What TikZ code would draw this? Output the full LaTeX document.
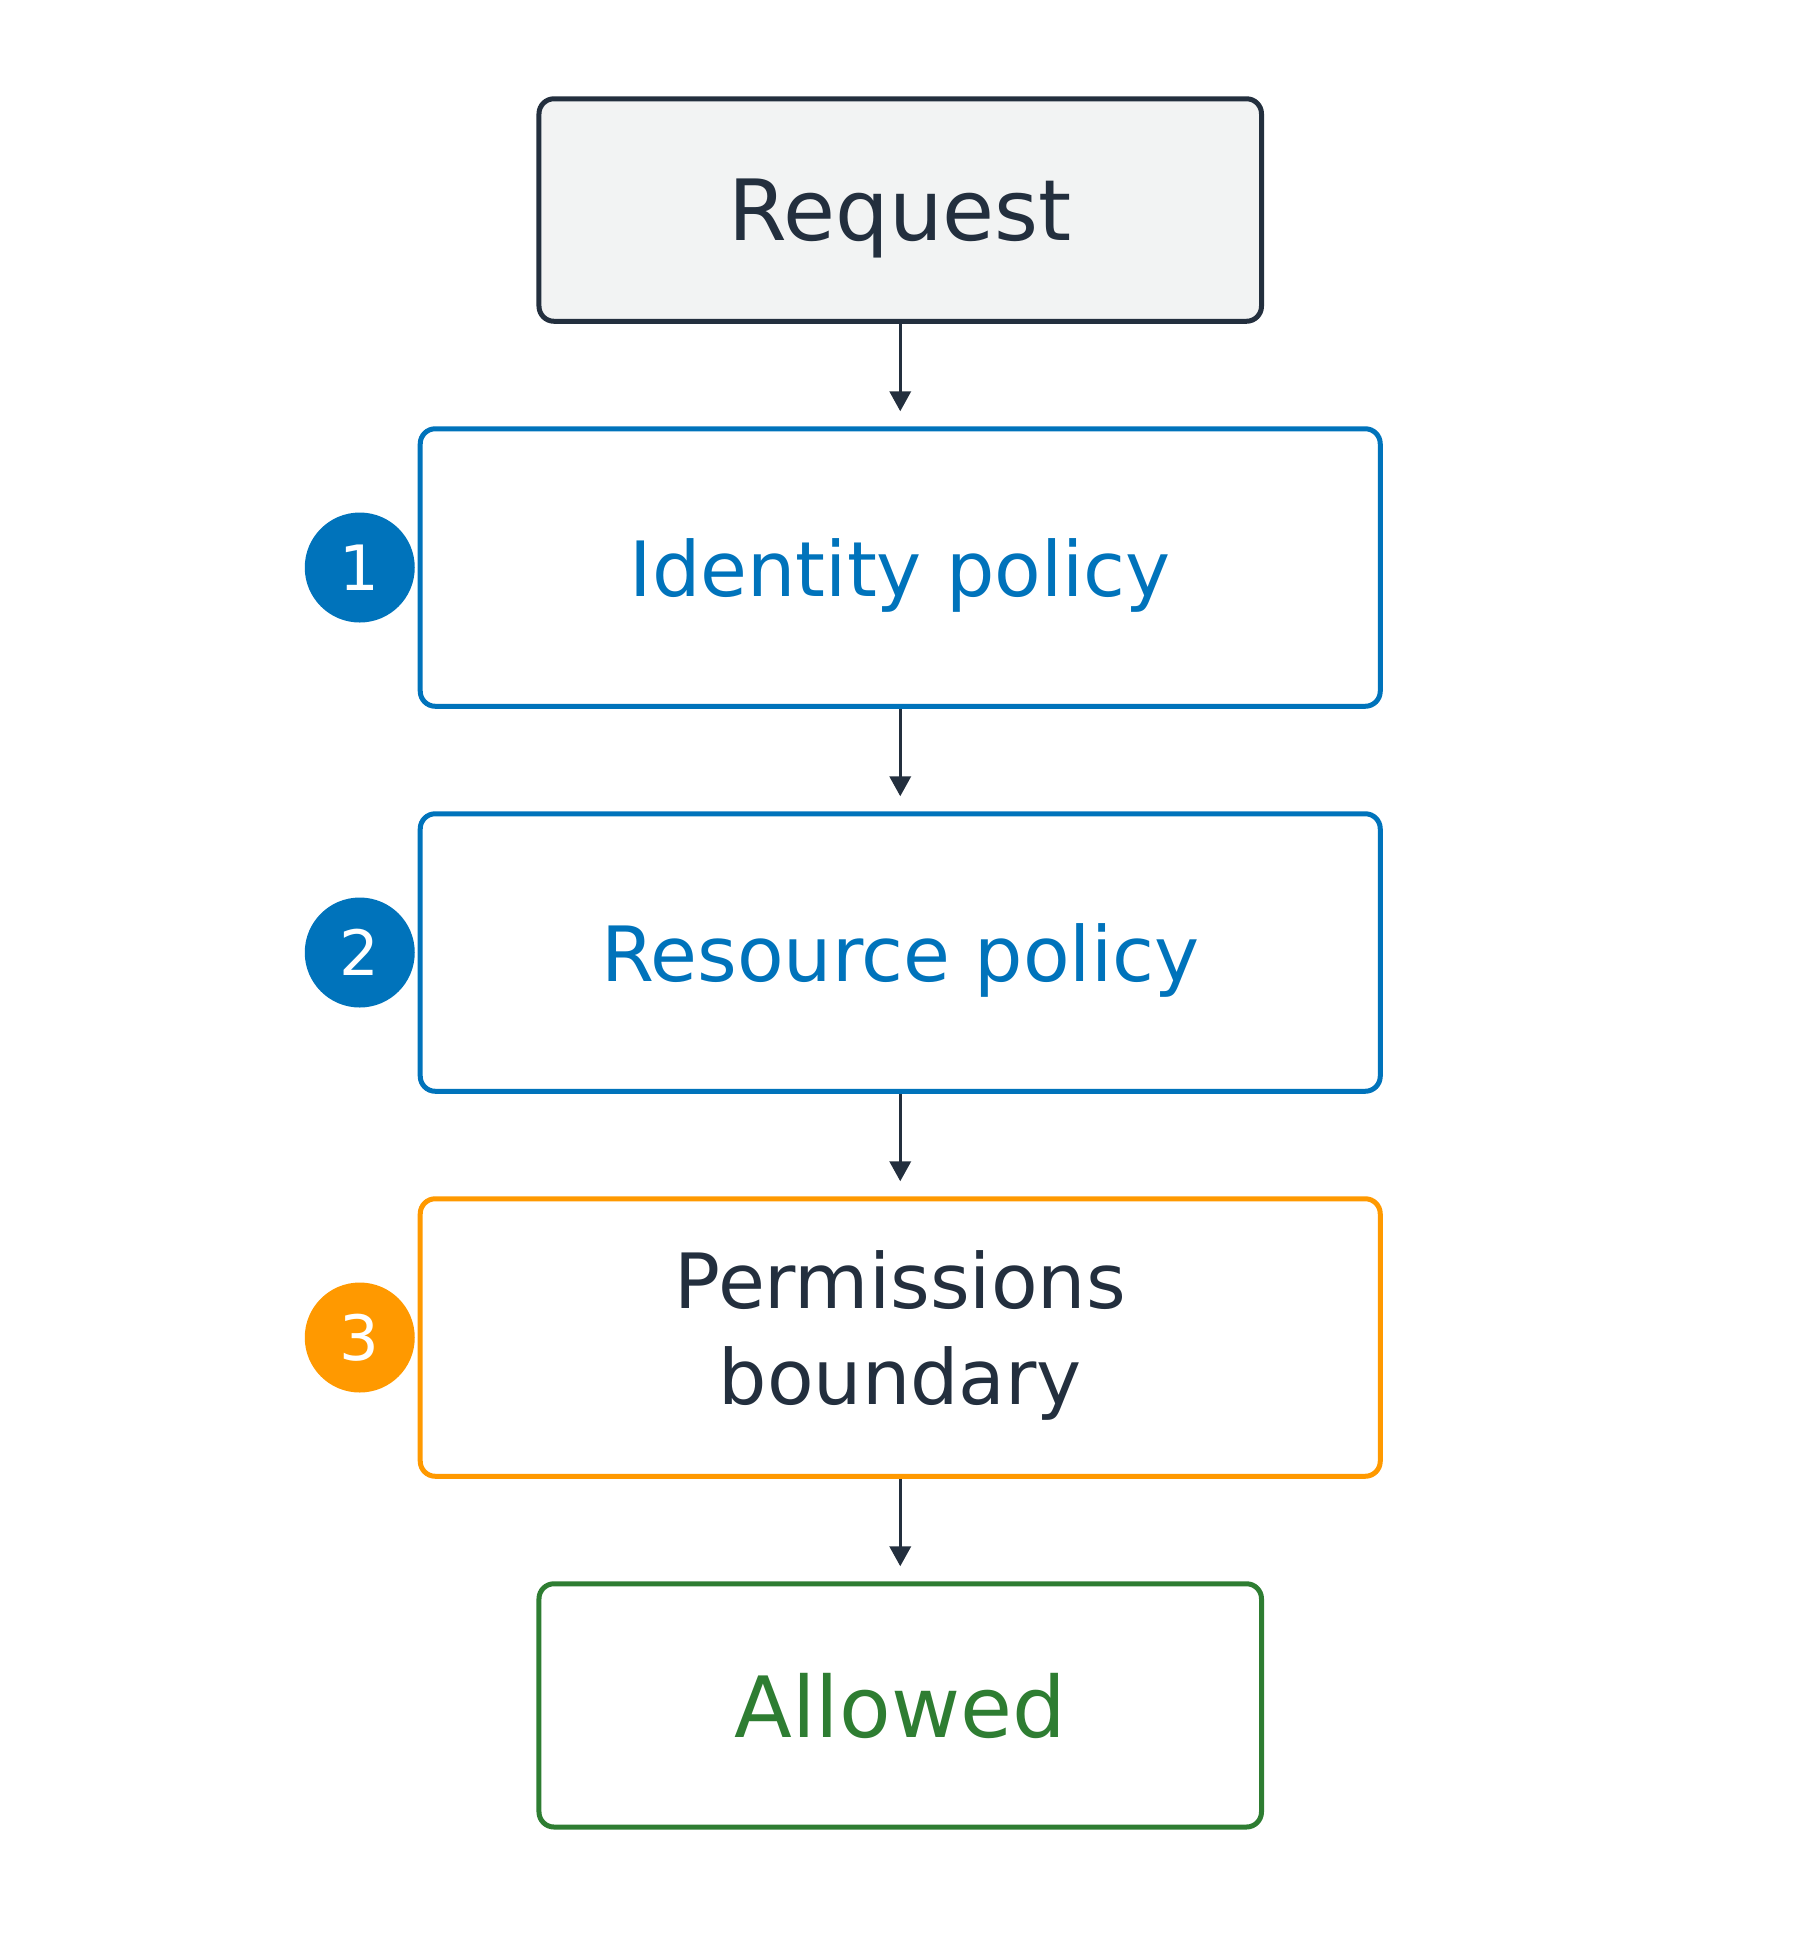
\documentclass[tikz,border=0pt]{standalone}
\usepackage{fontspec}
\setmainfont{DejaVu Sans}
\usetikzlibrary{matrix,shapes,arrows.meta}
\definecolor{ink}{HTML}{232F3E}
\definecolor{awsblue}{HTML}{0073BB}
\definecolor{awsorange}{HTML}{FF9900}
\definecolor{okgreen}{HTML}{2E7D32}
\definecolor{reqfill}{HTML}{F2F3F3}

\begin{document}
\begin{tikzpicture}
      \tikzstyle{box} = [rectangle, draw, line width=2pt, rounded corners=6pt, align=center, text depth=0pt]
      \tikzstyle{wide} = [box, minimum width=384pt, minimum height=111pt, font=\fontsize{30.5}{38.5}\selectfont]
      \tikzstyle{narrow} = [box, minimum width=289pt, font=\fontsize{33.8}{40}\selectfont]
      \tikzstyle{num} = [circle, inner sep=0pt, minimum size=44pt, text=white, font=\fontsize{25}{30}\selectfont]
      \tikzstyle{flow} = [line width=1.2pt, draw=ink, -{Triangle[width=8.5pt,length=8pt]}, shorten >=6pt]
      \useasboundingbox (0,0) rectangle (720pt,-776pt);
      \matrix[row sep = 41pt, column sep = 1.2pt, matrix anchor=req.center] at (360.1pt,-84pt) {
        % request
        &
        \node (req) [narrow, draw=ink, fill=reqfill, text=ink, minimum height=89pt] {Request};\\
        % checks
        \node (n1) [num, fill=awsblue] {1};&
        \node (idp) [wide, draw=awsblue, text=awsblue] {Identity policy};\\
        \node (n2) [num, fill=awsblue] {2};&
        \node (rsp) [wide, draw=awsblue, text=awsblue] {Resource policy};\\
        \node (n3) [num, fill=awsorange] {3};&
        \node (pb) [wide, draw=awsorange, text=ink, text depth=8pt] {Permissions\\boundary};\\
        % result
        &
        \node (ok) [narrow, draw=okgreen, text=okgreen, minimum height=97.3pt] {Allowed};\\
      };
      \draw [flow] (req)--(idp);
      \draw [flow] (idp)--(rsp);
      \draw [flow] (rsp)--(pb);
      \draw [flow] (pb)--(ok);
    \end{tikzpicture}
\end{document}
